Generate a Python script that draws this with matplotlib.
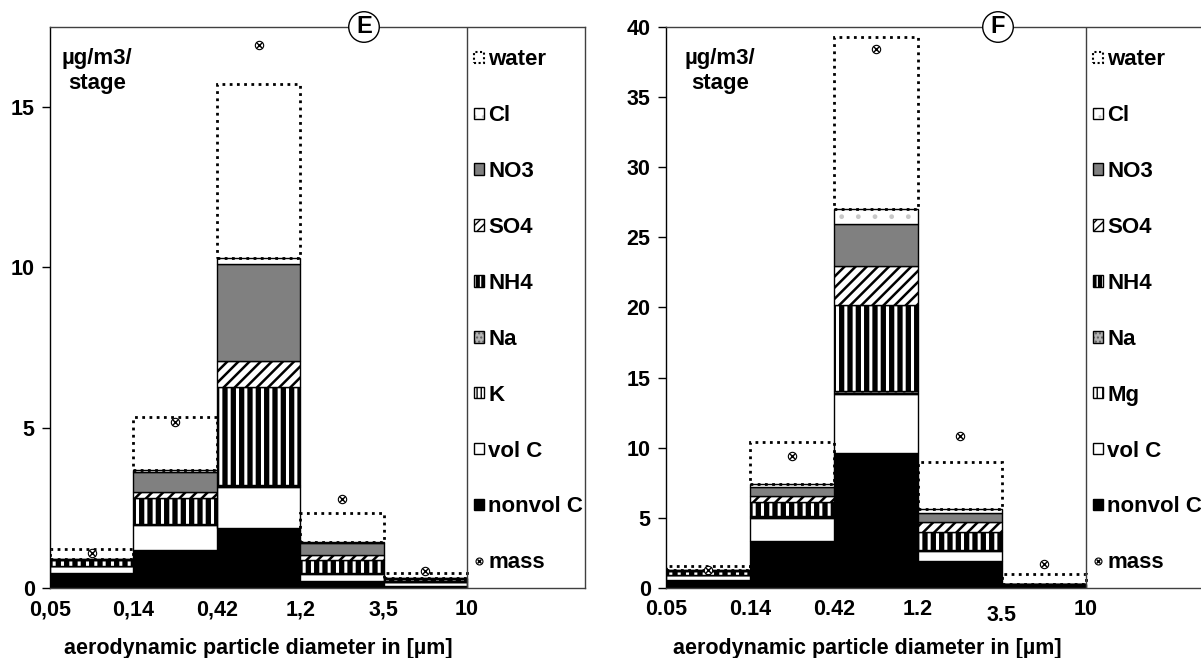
'''
size-resolved aerosol composition, two impactor samples (E and F)
'''
import matplotlib
matplotlib.use('Agg')
import matplotlib.pyplot as plt
from matplotlib.patches import Patch
from matplotlib.lines import Line2D
from matplotlib.legend_handler import HandlerTuple
import matplotlib.transforms as mtrans

plt.rcParams['font.family'] = ['Liberation Sans', 'DejaVu Sans']
plt.rcParams['font.weight'] = 'bold'

# ---- panel E (stage values in ug/m3) ----
e_edges = ['0,05', '0,14', '0,42', '1,2', '3,5', '10']
e_nonvol = [0.46, 1.19, 1.87, 0.23, 0.05]
e_vol = [0.24, 0.78, 1.27, 0.21, 0.15]
e_k = [0.00, 0.03, 0.05, 0.02, 0.00]
e_na = [0.00, 0.01, 0.03, 0.02, 0.02]
e_nh4 = [0.17, 0.79, 3.05, 0.39, 0.07]
e_so4 = [0.00, 0.18, 0.80, 0.16, 0.00]
e_no3 = [0.03, 0.64, 3.03, 0.37, 0.01]
e_cl = [0.01, 0.05, 0.19, 0.05, 0.01]
e_water = [0.30, 1.66, 5.43, 0.88, 0.15]
e_mass = [1.10, 5.18, 16.95, 2.77, 0.54]

# ---- panel F ----
f_edges = ['0.05', '0.14', '0.42', '1.2', '3.5', '10']
f_nonvol = [0.60, 3.35, 9.61, 1.95, 0.12]
f_vol = [0.33, 1.67, 4.21, 0.71, 0.08]
f_mg = [0.00, 0.05, 0.10, 0.04, 0.00]
f_na = [0.02, 0.03, 0.10, 0.04, 0.02]
f_nh4 = [0.29, 1.01, 6.16, 1.28, 0.08]
f_so4 = [0.00, 0.48, 2.81, 0.71, 0.00]
f_no3 = [0.03, 0.59, 2.95, 0.64, 0.01]
f_cl = [0.03, 0.24, 1.09, 0.24, 0.01]
f_water = [0.25, 3.02, 12.29, 3.40, 0.66]
f_mass = [1.25, 9.44, 38.42, 10.86, 1.71]

# fill styles: face, hatch, hatch colour, hatch line width
STYLES = {
    'nonvol C': ('black', None, 'black', 1.0),
    'vol C': ('white', None, 'black', 1.0),
    'K': ('white', '|', 'black', 1.0),
    'Mg': ('white', '|', 'black', 2.0),
    'Na': ('#b4b4b4', '..', '#606060', 1.0),
    'NH4': ('black', '||', 'white', 2.2),
    'SO4': ('white', '///', 'black', 1.8),
    'NO3': ('#808080', None, 'black', 1.0),
    'Cl': ('white', '.', '#c8c8c8', 1.0),
}
# the legend squares are tiny, so they get their own denser patterns
LEG_HATCH = {'K': '||||', 'Mg': '|||', 'NH4': '|||', 'SO4': '////', 'Na': '....', 'Cl': '..'}
LEG_HLW = {'K': 1.0, 'Mg': 2.5, 'NH4': 2.0, 'SO4': 1.0, 'Na': 1.0, 'Cl': 1.0}

FS = 15.5


def hatched_bar(ax, x, h, bottom, name):
    ''' one stacked layer: hatched fill, then a black outline '''
    face, hatch, hcol, hlw = STYLES[name]
    with plt.rc_context({'hatch.linewidth': hlw}):
        bars = ax.bar(x, h, 1.0, bottom=bottom, color=face, hatch=hatch,
                      edgecolor=hcol, linewidth=0)
    for b in bars:
        if hasattr(b, 'set_hatch_linewidth'):
            b.set_hatch_linewidth(hlw)
    ax.bar(x, h, 1.0, bottom=bottom, fill=False, edgecolor='black', linewidth=1)


def legend_handle(name):
    face, hatch, hcol, hlw = STYLES[name]
    hatch = LEG_HATCH.get(name, hatch)
    lw = LEG_HLW.get(name, 1.0)
    with plt.rc_context({'hatch.linewidth': lw}):
        fill = Patch(facecolor=face, hatch=hatch, edgecolor=hcol, linewidth=0)
    if hasattr(fill, 'set_hatch_linewidth'):
        fill.set_hatch_linewidth(lw)
    edge = Patch(fill=False, edgecolor='black', linewidth=1)
    return (fill, edge)


def draw_panel(ax, edges, layers, water, mass, ymax, yticks, tag, ax_w, xlabel_x, unit_x):
    ''' stacked stage bars + water + mass markers + side legend '''
    x = [i + 0.5 for i in range(len(mass))]
    bottom = [0.0] * len(mass)
    for name, vals in layers:
        hatched_bar(ax, x, vals, bottom, name)
        bottom = [b + v for b, v in zip(bottom, vals)]
    ax.bar(x, water, 1.0, bottom=bottom, fill=False, edgecolor='black',
           linewidth=2, linestyle=(0, (1.0, 1.6)))
    ax.plot(x, mass, 'o', ms=6, mfc='white', mec='black', mew=0.8, zorder=5)
    ax.plot(x, mass, 'x', ms=4, color='black', mew=1.0, zorder=6)

    n = len(mass)
    xmax = n * ax_w / (ax_w - 118)
    ax.set_xlim(0, xmax)
    ax.set_ylim(0, ymax)
    ax.axvline(n, color='#404040', lw=1)

    ax.set_xticks(range(n + 1))
    ax.set_xticklabels(edges)
    ax.set_yticks(yticks)
    ax.tick_params(axis='x', length=0, pad=8, labelsize=FS)
    ax.tick_params(axis='y', length=6, width=1, pad=5, labelsize=FS)
    for sp in ax.spines.values():
        sp.set_color('#404040')
        sp.set_linewidth(1)
    ax.spines['left'].set_color('black')

    ax.text(unit_x, 0.963, 'µg/m3/\nstage', transform=ax.transAxes, ha='center',
            va='top', fontsize=16, fontweight='bold', linespacing=1.25)
    ax.text(xlabel_x, -0.118, 'aerodynamic particle diameter in [µm]',
            transform=ax.get_xaxis_transform(), ha='center', va='baseline',
            fontsize=FS, fontweight='bold')

    # legend, top to bottom
    order = ['Cl', 'NO3', 'SO4', 'NH4', 'Na', layers[2][0], 'vol C', 'nonvol C']
    handles = [Patch(fill=False, edgecolor='black', linewidth=1.5, linestyle=(0, (1, 1.2)))]
    handles += [legend_handle(nm) for nm in order]
    mass_h = (Line2D([], [], marker='o', ls='', ms=5, mfc='white', mec='black', mew=0.8),
              Line2D([], [], marker='x', ls='', ms=3.5, color='black', mew=1.0))
    handles.append(mass_h)
    labels = ['water'] + order + ['mass']
    lx = n / xmax + 4 / ax_w
    ax.legend(handles, labels, loc='upper left', bbox_to_anchor=(lx, 1 - 19 / 561),
              frameon=False, prop={'weight': 'bold', 'size': 16},
              handlelength=0.42, handleheight=0.42, handletextpad=0.2,
              labelspacing=1.57, borderpad=0.15, borderaxespad=0,
              handler_map={tuple: HandlerTuple(ndivide=1)})

    ax.text(tag[1], 1.0, tag[0], transform=ax.transAxes, ha='center', va='center',
            fontsize=17, fontweight='bold', zorder=10, clip_on=False,
            bbox=dict(boxstyle='circle,pad=0.16', fc='white', ec='black', lw=1))


def main():
    fig = plt.figure(figsize=(12.01, 6.58), dpi=100)
    W, H = 1201, 658

    ax1 = fig.add_axes([50 / W, 70 / H, 535 / W, 561 / H])
    e_layers = [('nonvol C', e_nonvol), ('vol C', e_vol), ('K', e_k), ('Na', e_na),
                ('NH4', e_nh4), ('SO4', e_so4), ('NO3', e_no3), ('Cl', e_cl)]
    draw_panel(ax1, e_edges, e_layers, e_water, e_mass, 17.5, [0, 5, 10, 15],
               ('E', (364 - 50) / 535), 535, 2.5, (97 - 50) / 535)

    ax2 = fig.add_axes([666 / W, 70 / H, 538 / W, 561 / H])
    f_layers = [('nonvol C', f_nonvol), ('vol C', f_vol), ('Mg', f_mg), ('Na', f_na),
                ('NH4', f_nh4), ('SO4', f_so4), ('NO3', f_no3), ('Cl', f_cl)]
    draw_panel(ax2, f_edges, f_layers, f_water, f_mass, 40, list(range(0, 41, 5)),
               ('F', (998 - 666) / 538), 538, 2.4, (720 - 666) / 538)

    # the 3.5 label sits a little lower in the original
    lbl = ax2.get_xticklabels()[4]
    lbl.set_transform(lbl.get_transform() + mtrans.ScaledTranslation(0, -6 / 100, fig.dpi_scale_trans))

    fig.savefig('out.png', dpi=100)
    return


if __name__ == '__main__':
    main()
